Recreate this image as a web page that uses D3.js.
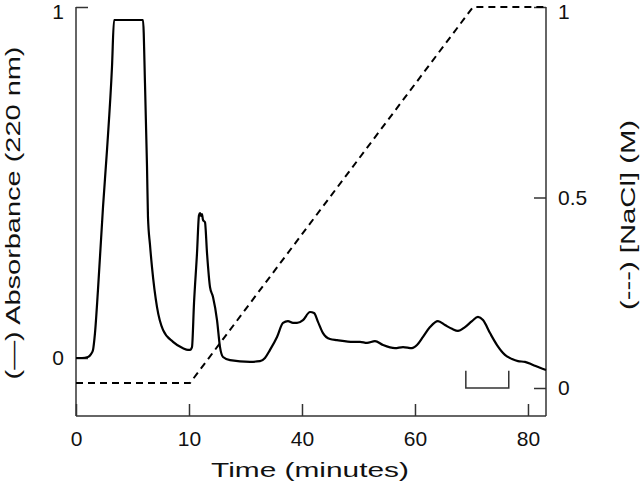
<!DOCTYPE html>
<html>
<head>
<meta charset="utf-8">
<script src="https://cdn.jsdelivr.net/npm/d3@7"></script>
<style>
  body { margin: 0; background: #fff; }
  svg { display: block; font-family: "Liberation Sans", Arial, Helvetica, sans-serif; }
</style>
</head>
<body>
<div id="chart"></div>
<script>
// define variables
const width = 640;
const height = 486;
const fontSize = 21;

///
/// DATA
///

// time in axis units (ticks every 20), absorbance at 220 nm
const timeMin = [0, 1.06, 2.12, 2.66, 3.01, 3.36, 3.89, 4.78, 5.49, 6.37, 6.73,
    11.86, 12.21, 12.57, 12.74, 13.10, 13.45, 14.34, 15.40, 17.17, 18.94, 19.82,
    20.18, 20.53, 20.89, 21.42, 21.77, 21.95, 22.13, 22.30, 22.48, 22.83, 23.19,
    23.72, 24.25, 24.96, 25.49, 26.02, 27.26, 30.80, 32.57, 33.45, 34.34, 35.58,
    36.64, 37.52, 38.41, 39.12, 40.18, 41.42, 42.13, 42.83, 43.72, 44.96, 46.20,
    49.03, 50.27, 51.51, 52.92, 54.34, 56.46, 57.88, 59.47, 60.36, 61.42, 62.66,
    64.07, 65.31, 66.55, 67.61, 68.85, 70.09, 71.15, 72.04, 73.28, 74.52, 75.93,
    77.17, 78.23, 79.47, 80.89, 82.13, 83.19];
const absorbance = [0, 0, 0.003, 0.011, 0.023, 0.071, 0.194, 0.430, 0.593, 0.829, 0.963,
    0.963, 0.783, 0.544, 0.402, 0.322, 0.259, 0.145, 0.080, 0.046, 0.028, 0.023,
    0.023, 0.031, 0.157, 0.299, 0.407, 0.413, 0.405, 0.410, 0.393, 0.387, 0.299,
    0.202, 0.174, 0.108, 0.031, 0.003, -0.006, -0.011, -0.009, 0, 0.023, 0.060,
    0.100, 0.105, 0.100, 0.100, 0.108, 0.131, 0.128, 0.103, 0.071, 0.054, 0.051,
    0.046, 0.046, 0.043, 0.048, 0.037, 0.028, 0.031, 0.028, 0.037, 0.060, 0.088,
    0.105, 0.094, 0.083, 0.077, 0.088, 0.105, 0.117, 0.108, 0.071, 0.037, 0.009,
    -0.003, -0.009, -0.011, -0.020, -0.028, -0.034];

// NaCl gradient (M)
const saltTime = [0, 20.18, 70.27, 83.19];
const saltConc = [0.013, 0.013, 1, 1];

const xTickValues = [0, 20, 40, 60, 80];
const xTickLabels = ["0", "10", "40", "60", "80"];
const absTicks = [0, 1];
const saltTicks = [0, 0.5, 1];

// pooled fraction
const poolRange = [69.0, 76.6];

///
/// SCALES
///

const x = d3.scaleLinear().domain([0, 83.19]).range([76, 546]);
const yA = d3.scaleLinear().domain([0, 1]).range([358, 7]);
const yN = d3.scaleLinear().domain([0, 1]).range([388, 7]);
const frameTop = 7, frameBottom = 416;

const svg = d3.select("#chart")
    .append("svg")
    .attr("width", width)
    .attr("height", height);

///
/// FRAME + AXES
///

const frame = svg.append("g")
    .attr("stroke", "#333")
    .attr("stroke-width", 1.5);
frame.append("line").attr("x1", x.range()[0]).attr("x2", x.range()[0]).attr("y1", frameTop).attr("y2", frameBottom);
frame.append("line").attr("x1", x.range()[1]).attr("x2", x.range()[1]).attr("y1", frameTop).attr("y2", frameBottom);
frame.append("line").attr("x1", x.range()[0]).attr("x2", x.range()[1]).attr("y1", frameBottom).attr("y2", frameBottom);

function styleAxis(g) {
    g.select(".domain").remove();
    g.selectAll(".tick line").attr("stroke", "#333").attr("stroke-width", 1.5);
    g.selectAll(".tick text")
        .attr("fill", "#111")
        .attr("font-size", fontSize)
        .attr("font-family", "Liberation Sans, Arial, Helvetica, sans-serif");
    // top label sits a little lower so it isn't cut off
    g.selectAll(".tick text").filter(d => d === 1).attr("dy", "0.55em");
}

svg.append("g")
    .attr("transform", `translate(0,${frameBottom})`)
    .call(d3.axisBottom(x)
        .tickValues(xTickValues)
        .tickFormat((d, i) => xTickLabels[i])
        .tickSize(-12)
        .tickPadding(15))
    .call(g => { g.select(".domain").remove(); })
    .call(g => g.selectAll(".tick line").attr("stroke", "#333").attr("stroke-width", 1.5))
    .call(g => g.selectAll(".tick text").attr("fill", "#111").attr("font-size", fontSize)
        .attr("font-family", "Liberation Sans, Arial, Helvetica, sans-serif"));

svg.append("g")
    .attr("transform", `translate(${x.range()[0]},0)`)
    .call(d3.axisLeft(yA)
        .tickValues(absTicks)
        .tickFormat(d3.format("d"))
        .tickSize(-12)
        .tickPadding(12))
    .call(styleAxis);

svg.append("g")
    .attr("transform", `translate(${x.range()[1]},0)`)
    .call(d3.axisRight(yN)
        .tickValues(saltTicks)
        .tickFormat(d => d === 0.5 ? "0.5" : d3.format("d")(d))
        .tickSize(-12)
        .tickPadding(12))
    .call(styleAxis);

///
/// LINES
///

const absLine = d3.line()
    .x((d, i) => x(timeMin[i]))
    .y(d => yA(d))
    .curve(d3.curveMonotoneX);

svg.append("path")
    .datum(absorbance)
    .attr("fill", "none")
    .attr("stroke", "#000")
    .attr("stroke-width", 2.2)
    .attr("stroke-linejoin", "round")
    .attr("d", absLine);

const saltLine = d3.line()
    .x((d, i) => x(saltTime[i]))
    .y(d => yN(d));

svg.append("path")
    .datum(saltConc)
    .attr("fill", "none")
    .attr("stroke", "#000")
    .attr("stroke-width", 2)
    .attr("stroke-dasharray", "7,5")
    .attr("d", saltLine);

// bracket for pooled fraction
svg.append("path")
    .attr("fill", "none")
    .attr("stroke", "#333")
    .attr("stroke-width", 1.5)
    .attr("d", `M${x(poolRange[0])},${yN(0.045)}V${yN(0)}H${x(poolRange[1])}V${yN(0.045)}`);

///
/// TITLES
///

svg.append("text")
    .attr("x", 310)
    .attr("y", 477)
    .attr("text-anchor", "middle")
    .attr("font-size", fontSize)
    .attr("textLength", 198)
    .attr("lengthAdjust", "spacingAndGlyphs")
    .attr("fill", "#111")
    .text("Time (minutes)");

svg.append("text")
    .attr("transform", "translate(20,213) rotate(-90)")
    .attr("text-anchor", "middle")
    .attr("font-size", fontSize)
    .attr("textLength", 333)
    .attr("lengthAdjust", "spacingAndGlyphs")
    .attr("fill", "#111")
    .text("(\u2014) Absorbance (220 nm)");

svg.append("text")
    .attr("transform", "translate(635,215) rotate(-90)")
    .attr("text-anchor", "middle")
    .attr("font-size", fontSize)
    .attr("textLength", 190)
    .attr("lengthAdjust", "spacingAndGlyphs")
    .attr("fill", "#111")
    .text("(---) [NaCl] (M)");
</script>
</body>
</html>
